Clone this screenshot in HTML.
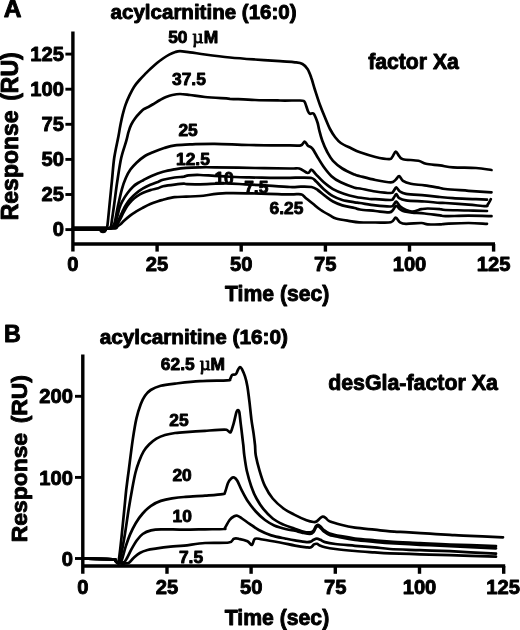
<!DOCTYPE html>
<html lang="en">
<head>
<meta charset="utf-8">
<title>Figure</title>
<style>
html,body{margin:0;padding:0;background:#fff;}
svg{display:block;}
</style>
</head>
<body>
<svg width="520" height="630" viewBox="0 0 520 630">
<rect width="520" height="630" fill="#fff"/>
<g fill="none" stroke="#000" stroke-width="2.7" stroke-linecap="round" stroke-linejoin="round">
<path d="M73.0 228.5C78.2 228.5 98.4 228.8 104.0 228.7C109.6 228.6 105.9 228.6 106.5 228.0C107.1 227.4 107.0 229.0 107.5 225.0C108.0 221.0 108.9 211.5 109.6 204.2C110.3 196.9 111.1 188.9 111.9 181.2C112.7 173.5 113.1 165.5 114.2 158.0C115.3 150.5 117.5 141.3 118.5 136.0C119.5 130.7 119.5 129.6 120.2 126.2C120.9 122.8 121.6 119.0 122.5 115.4C123.4 111.8 124.4 107.9 125.6 104.6C126.8 101.3 128.1 98.4 129.5 95.4C130.9 92.5 132.3 89.5 134.0 86.9C135.7 84.3 137.7 82.0 139.5 80.0C141.3 78.0 142.7 76.5 144.6 74.6C146.5 72.7 148.7 70.4 150.8 68.5C152.9 66.6 155.0 64.7 157.0 63.0C159.0 61.3 161.0 59.9 163.0 58.5C165.0 57.1 167.1 55.7 169.2 54.6C171.3 53.5 173.6 52.6 175.4 52.0C177.2 51.4 177.6 51.2 180.0 51.2C182.4 51.2 185.8 51.8 190.0 52.3C194.2 52.8 198.3 53.6 205.0 54.5C211.7 55.4 221.7 56.7 230.0 57.5C238.3 58.3 246.7 58.9 255.0 59.5C263.3 60.1 273.3 60.8 280.0 61.2C286.7 61.7 291.2 61.8 295.0 62.3C298.8 62.8 300.4 62.9 302.5 64.0C304.6 65.1 306.0 66.8 307.5 69.0C309.0 71.2 310.0 74.0 311.2 77.5C312.5 81.0 313.5 85.4 315.0 90.0C316.5 94.6 318.3 100.4 320.0 105.0C321.7 109.6 323.3 113.5 325.0 117.5C326.7 121.5 328.3 125.8 330.0 129.0C331.7 132.2 333.2 134.7 335.0 137.0C336.8 139.3 338.1 141.1 340.8 143.0C343.6 144.9 348.3 146.9 351.5 148.5C354.7 150.1 356.0 150.9 360.0 152.3C364.0 153.7 370.5 155.8 375.4 157.0C380.3 158.2 386.4 159.2 389.2 159.2C392.0 159.2 391.2 158.3 392.3 157.0C393.4 155.7 394.6 151.6 395.7 151.5C396.8 151.4 398.0 154.9 399.2 156.2C400.4 157.5 399.8 158.4 403.0 159.2C406.2 160.0 414.7 160.0 418.5 160.8C422.3 161.6 422.4 163.0 426.0 163.8C429.6 164.6 435.5 164.8 440.0 165.4C444.5 166.0 447.0 167.0 453.0 167.4C459.0 167.8 469.6 167.6 476.0 168.0C482.4 168.4 488.9 169.7 491.5 170.0"/>
<path d="M73.0 228.5C78.8 228.5 101.8 228.8 108.0 228.5C114.2 228.2 109.9 227.8 110.5 227.0C111.1 226.2 110.8 227.8 111.4 224.0C112.0 220.2 113.2 211.3 114.2 204.2C115.2 197.1 116.1 188.9 117.3 181.2C118.5 173.5 119.7 164.7 121.2 158.0C122.7 151.3 125.0 145.5 126.2 141.2C127.4 136.9 127.7 134.8 128.5 132.0C129.3 129.2 130.1 126.8 131.2 124.6C132.3 122.3 133.6 120.4 135.0 118.5C136.4 116.6 138.2 114.5 139.7 113.0C141.2 111.5 142.2 110.3 143.8 109.2C145.4 108.1 147.5 107.4 149.2 106.5C150.9 105.6 152.0 104.9 153.8 103.8C155.6 102.7 158.0 101.1 160.0 100.0C162.0 98.9 163.9 97.8 166.0 97.0C168.1 96.2 170.0 95.5 172.3 95.0C174.6 94.5 177.1 94.0 180.0 94.0C182.9 94.0 185.8 94.5 190.0 95.0C194.2 95.5 198.3 96.4 205.0 97.0C211.7 97.6 221.7 98.2 230.0 98.8C238.3 99.2 246.7 99.7 255.0 100.0C263.3 100.3 272.5 100.4 280.0 100.5C287.5 100.6 296.1 100.4 300.0 100.5C303.9 100.6 302.7 100.7 303.5 101.0C304.3 101.3 304.2 100.8 305.0 102.5C305.8 104.2 307.2 109.4 308.0 111.2C308.8 113.1 309.0 113.3 310.0 113.8C311.0 114.2 312.5 112.3 313.8 113.8C315.0 115.2 316.6 119.8 317.5 122.5C318.4 125.2 318.4 127.0 319.2 130.0C320.0 133.1 321.0 137.2 322.3 140.8C323.6 144.4 325.2 148.2 327.0 151.5C328.8 154.8 330.4 158.0 333.0 160.8C335.6 163.6 338.7 166.2 342.3 168.5C345.9 170.8 351.7 173.3 354.6 174.6C357.6 175.9 356.5 175.3 360.0 176.2C363.5 177.1 370.3 179.0 375.4 180.0C380.5 181.0 387.5 182.3 390.8 182.3C394.1 182.3 394.0 181.0 395.4 180.0C396.8 179.0 397.9 176.1 399.2 176.2C400.5 176.3 401.1 179.5 403.0 180.8C404.9 182.1 407.2 183.0 410.8 183.8C414.4 184.6 419.7 184.7 424.6 185.4C429.5 186.1 436.5 187.4 440.0 188.0C443.5 188.6 440.6 188.5 445.4 189.0C450.1 189.5 460.8 190.2 468.5 190.8C476.2 191.4 487.7 192.1 491.5 192.3"/>
<path d="M73.0 228.5C79.2 228.4 103.3 228.4 110.0 228.0C116.7 227.6 112.2 227.1 113.0 226.0C113.8 224.9 114.2 224.6 115.0 221.2C115.8 217.8 116.8 211.2 118.0 205.8C119.2 200.4 120.7 193.4 122.0 188.8C123.3 184.2 124.4 181.2 125.8 178.0C127.2 174.8 128.6 172.2 130.4 169.6C132.2 167.0 134.2 164.9 136.5 162.7C138.8 160.5 141.4 158.3 144.2 156.5C147.0 154.7 150.2 153.4 153.5 152.0C156.8 150.6 160.6 149.1 164.2 148.0C167.8 146.9 170.7 145.9 175.0 145.3C179.3 144.7 183.4 144.7 190.0 144.4C196.6 144.2 204.8 143.7 214.6 143.8C224.4 143.9 236.4 144.7 249.0 145.0C261.6 145.3 281.4 145.3 290.0 145.4C298.6 145.5 298.4 146.1 300.8 145.4C303.2 144.8 303.5 141.5 304.6 141.5C305.8 141.5 306.4 144.2 307.7 145.4C309.0 146.6 310.8 146.7 312.3 148.5C313.9 150.3 315.1 153.1 317.0 156.2C318.9 159.3 321.4 163.7 323.8 167.0C326.2 170.3 328.7 173.6 331.5 176.2C334.3 178.8 336.9 180.4 340.8 182.3C344.7 184.2 351.4 186.7 354.6 187.7C357.8 188.7 356.5 187.9 360.0 188.5C363.5 189.1 370.3 190.8 375.4 191.5C380.5 192.2 387.7 193.1 390.8 193.0C393.9 192.9 392.9 191.7 393.8 190.8C394.7 189.9 395.2 187.3 396.2 187.4C397.2 187.5 398.4 190.4 400.0 191.5C401.6 192.6 401.9 193.2 406.0 193.8C410.1 194.5 418.9 194.9 424.6 195.4C430.3 195.9 435.3 196.5 440.0 197.0C444.7 197.5 447.0 197.8 453.0 198.2C459.0 198.6 470.3 198.9 476.0 199.2C481.7 199.4 485.2 199.6 487.0 199.7"/>
<path d="M73.0 228.5C79.3 228.4 104.1 228.6 111.0 228.0C117.9 227.4 113.5 226.9 114.5 225.0C115.5 223.1 116.5 219.3 117.3 216.5C118.1 213.7 118.7 210.5 119.5 207.9C120.3 205.3 121.1 203.6 122.4 201.2C123.7 198.8 125.4 195.9 127.2 193.5C129.0 191.1 131.2 188.4 133.0 186.7C134.8 184.9 136.2 184.1 138.0 183.0C139.8 181.9 141.3 181.2 143.6 180.0C145.8 178.8 148.2 177.4 151.5 176.0C154.8 174.6 159.2 172.9 163.1 171.8C166.9 170.7 170.8 170.0 174.6 169.3C178.4 168.6 181.9 168.1 186.1 167.8C190.3 167.5 195.2 167.4 200.0 167.3C204.8 167.2 205.4 167.2 214.6 167.3C223.8 167.4 242.4 167.8 255.0 168.0C267.6 168.2 282.6 168.4 290.0 168.5C297.4 168.6 296.2 167.8 299.2 168.5C302.1 169.2 305.6 172.8 307.7 173.0C309.8 173.2 310.1 169.4 311.5 169.7C312.9 170.0 314.1 172.5 316.2 174.6C318.2 176.7 321.0 179.9 323.8 182.3C326.6 184.7 329.7 187.3 333.0 189.2C336.3 191.1 340.0 192.5 343.8 193.8C347.6 195.1 351.6 196.1 356.0 197.0C360.4 197.9 366.8 198.6 370.0 199.0C373.2 199.4 371.9 199.0 375.4 199.2C378.9 199.4 387.7 200.2 390.8 200.0C393.9 199.8 392.9 198.7 393.8 197.7C394.7 196.7 395.3 194.1 396.2 194.2C397.1 194.3 397.6 197.2 399.2 198.2C400.8 199.2 401.8 199.8 406.0 200.3C410.2 200.9 418.9 201.1 424.6 201.5C430.3 201.9 436.5 202.6 440.0 202.8C443.5 203.1 440.6 202.7 445.4 203.0C450.1 203.3 461.8 204.1 468.5 204.6C475.2 205.1 482.2 206.2 485.4 206.2C488.6 206.2 486.8 205.8 487.7 204.6C488.6 203.4 490.3 200.1 490.8 199.2"/>
<path d="M73.0 228.5C79.5 228.4 104.9 228.5 112.0 228.0C119.1 227.5 114.3 227.0 115.5 225.5C116.7 224.0 117.8 221.3 119.0 219.0C120.2 216.7 121.4 213.9 122.4 211.7C123.5 209.5 124.0 208.1 125.3 206.0C126.6 203.9 128.3 201.3 130.1 199.2C131.9 197.1 133.8 195.2 135.9 193.5C138.0 191.8 140.2 190.1 142.6 188.7C145.0 187.2 147.7 185.9 150.3 184.8C152.9 183.7 155.9 182.7 158.0 181.9C160.1 181.1 160.3 180.5 163.1 179.8C165.9 179.1 171.1 178.0 174.6 177.5C178.1 177.0 181.5 177.0 183.8 176.7C186.1 176.3 185.8 175.7 188.5 175.4C191.2 175.1 195.7 174.9 200.0 175.0C204.3 175.1 208.8 175.5 214.6 175.8C220.4 176.1 229.3 176.7 235.0 177.0C240.7 177.3 243.2 177.3 249.0 177.4C254.8 177.5 263.2 177.7 270.0 177.8C276.8 177.9 285.1 177.8 290.0 177.8C294.9 177.8 295.6 177.6 299.2 177.6C302.8 177.6 308.7 177.3 311.5 178.0C314.3 178.7 314.1 179.6 316.2 181.5C318.2 183.4 321.0 186.8 323.8 189.2C326.6 191.6 329.9 194.4 333.0 196.2C336.1 198.0 338.7 199.0 342.3 200.0C345.9 201.0 351.7 201.8 354.6 202.3C357.6 202.8 356.5 202.5 360.0 203.0C363.5 203.5 370.3 204.8 375.4 205.4C380.5 206.0 387.7 206.6 390.8 206.5C393.9 206.4 392.9 205.4 393.8 204.6C394.7 203.8 395.2 201.2 396.2 201.5C397.2 201.8 398.4 204.8 400.0 206.2C401.6 207.6 403.9 209.1 406.0 210.0C408.1 210.9 409.7 211.6 412.3 211.5C414.9 211.4 418.9 209.7 421.5 209.2C424.1 208.7 424.6 208.5 427.7 208.5C430.8 208.5 437.1 208.9 440.0 209.2C442.9 209.4 440.6 209.8 445.4 210.0C450.1 210.2 461.6 210.3 468.5 210.5C475.4 210.7 483.9 210.9 487.0 211.0"/>
<path d="M73.0 228.5C79.7 228.4 105.8 228.5 113.0 228.0C120.2 227.5 115.3 226.9 116.5 225.5C117.7 224.1 118.8 221.6 120.0 219.5C121.2 217.4 122.2 214.9 123.4 212.7C124.6 210.4 125.8 208.1 127.2 206.0C128.6 203.9 130.4 201.8 132.0 200.2C133.6 198.6 135.0 197.5 136.8 196.3C138.6 195.1 140.3 194.0 142.6 193.0C144.8 192.0 147.7 190.9 150.3 190.1C152.9 189.3 155.9 188.8 158.0 188.2C160.1 187.6 160.3 186.9 163.1 186.3C165.9 185.7 171.1 185.0 174.6 184.6C178.1 184.2 181.7 183.8 183.8 183.7C185.9 183.6 184.3 184.1 187.0 184.2C189.7 184.3 193.5 184.4 200.0 184.3C206.5 184.2 218.5 183.4 226.0 183.4C233.5 183.4 239.2 184.1 245.0 184.4C250.8 184.7 253.3 184.8 260.8 185.2C268.3 185.6 283.3 186.8 290.0 187.0C296.7 187.2 297.2 186.6 300.8 186.6C304.4 186.6 308.7 186.4 311.5 187.0C314.3 187.6 315.4 188.5 317.7 190.0C320.0 191.5 322.8 194.3 325.4 196.2C327.9 198.1 330.2 200.0 333.0 201.5C335.8 203.0 338.7 204.3 342.3 205.4C345.9 206.5 351.7 207.3 354.6 208.0C357.6 208.7 356.5 209.0 360.0 209.5C363.5 210.0 370.5 210.5 375.4 211.0C380.3 211.5 386.3 212.5 389.2 212.3C392.1 212.1 391.8 211.1 393.0 210.0C394.2 208.9 395.0 205.9 396.2 205.8C397.4 205.7 398.6 208.2 400.0 209.2C401.4 210.1 402.6 210.9 404.6 211.5C406.7 212.1 409.0 212.3 412.3 212.6C415.6 212.9 420.0 213.0 424.6 213.5C429.2 214.0 436.5 215.0 440.0 215.4C443.5 215.8 440.6 216.1 445.4 216.2C450.1 216.2 460.8 215.7 468.5 215.7C476.2 215.7 487.7 216.1 491.5 216.2"/>
<path d="M73.0 228.5C79.5 228.5 104.8 228.8 112.0 228.5C119.2 228.2 114.6 227.7 116.0 227.0C117.4 226.3 119.1 225.3 120.5 224.2C121.9 223.1 122.7 221.8 124.3 220.4C125.9 219.0 128.2 217.1 130.1 215.6C132.0 214.1 133.8 213.0 135.9 211.7C138.0 210.4 140.2 209.2 142.6 207.9C145.0 206.6 147.7 205.1 150.3 204.0C152.9 202.9 155.9 201.9 158.0 201.2C160.1 200.5 160.3 200.5 163.1 199.8C165.9 199.1 170.8 197.7 174.6 197.2C178.4 196.7 181.9 196.8 186.1 196.6C190.3 196.4 193.3 196.6 200.0 196.0C206.7 195.4 215.9 193.6 226.0 193.2C236.1 192.8 250.1 193.4 260.8 193.6C271.5 193.8 283.3 194.3 290.0 194.4C296.7 194.5 298.2 193.8 300.8 194.3C303.4 194.9 303.4 196.1 305.4 197.7C307.4 199.3 310.4 201.8 313.0 203.8C315.6 205.9 318.0 208.1 320.8 210.0C323.6 211.9 327.5 214.0 330.0 215.4C332.5 216.8 332.9 217.6 336.0 218.5C339.1 219.4 344.6 220.2 348.5 220.8C352.4 221.4 354.7 222.0 359.2 222.3C363.7 222.6 370.1 222.5 375.4 222.5C380.7 222.5 387.4 223.1 390.8 222.3C394.2 221.5 394.2 217.7 395.7 217.7C397.2 217.7 398.3 221.3 400.0 222.3C401.7 223.3 402.4 223.7 406.0 223.8C409.6 223.9 417.9 222.9 421.5 223.0C425.1 223.1 424.6 224.1 427.7 224.3C430.8 224.5 437.1 224.5 440.0 224.4C442.9 224.3 440.6 224.0 445.4 223.8C450.1 223.6 461.6 223.0 468.5 223.0C475.4 223.0 483.9 223.7 487.0 223.8"/>
<path d="M83.0 558.6C87.9 558.7 107.1 558.9 112.5 559.3C117.9 559.7 114.7 560.4 115.5 561.0C116.3 561.6 117.0 563.2 117.5 563.0C118.0 562.8 118.1 564.3 118.8 560.0C119.5 555.7 120.6 545.9 121.5 537.3C122.4 528.7 123.6 516.4 124.4 508.5C125.2 500.6 125.5 496.4 126.2 490.0C127.0 483.6 127.6 478.6 128.8 470.0C129.9 461.4 131.6 447.2 132.9 438.6C134.2 430.0 135.1 424.3 136.4 418.6C137.7 412.9 139.3 408.1 140.7 404.3C142.1 400.5 143.3 398.1 145.0 395.7C146.7 393.3 148.1 391.7 150.7 390.0C153.3 388.3 156.6 386.8 160.7 385.7C164.8 384.6 168.4 384.3 175.0 383.6C181.6 382.9 191.3 381.8 200.0 381.2C208.7 380.7 222.1 380.7 227.1 380.4C232.1 380.1 229.2 380.2 230.0 379.3C230.8 378.4 231.2 375.8 232.1 375.0C233.0 374.2 234.7 375.1 235.7 374.3C236.7 373.5 237.2 371.2 237.9 370.0C238.6 368.8 239.3 367.2 240.0 367.1C240.7 367.0 241.3 367.8 242.1 369.3C242.9 370.9 244.1 373.5 245.0 376.4C245.9 379.2 246.7 382.3 247.4 386.4C248.1 390.4 248.6 395.2 249.3 400.7C250.0 406.2 250.7 413.8 251.4 419.3C252.1 424.8 253.0 429.3 253.6 433.6C254.2 437.9 254.6 441.4 255.0 445.0C255.4 448.6 255.0 451.1 255.8 455.4C256.6 459.7 258.1 465.7 259.6 470.8C261.1 475.9 262.8 481.6 265.0 486.2C267.2 490.8 269.6 494.8 272.7 498.5C275.8 502.2 279.9 505.8 283.5 508.5C287.1 511.2 290.4 512.6 294.2 514.6C298.0 516.6 303.3 519.0 306.5 520.2C309.7 521.4 311.8 521.8 313.5 522.0C315.2 522.2 315.4 522.1 316.5 521.5C317.6 520.9 318.8 519.3 319.8 518.5C320.8 517.7 321.7 516.8 322.7 516.7C323.7 516.6 324.5 517.1 325.6 517.9C326.8 518.7 327.0 520.1 329.6 521.3C332.2 522.4 336.8 523.7 341.0 524.8C345.2 525.9 349.4 526.9 355.0 527.7C360.6 528.5 368.8 529.1 374.6 529.7C380.4 530.3 384.2 530.9 390.0 531.3C395.8 531.7 402.5 531.9 409.2 532.3C415.9 532.7 423.2 533.3 430.0 533.7C436.8 534.1 444.4 534.5 450.0 534.8C455.6 535.1 454.5 535.2 463.3 535.6C472.1 536.0 496.4 537.0 503.0 537.3"/>
<path d="M83.0 558.6C87.9 558.7 107.1 558.9 112.5 559.3C117.9 559.7 114.7 560.4 115.5 561.0C116.3 561.6 116.8 563.0 117.5 563.0C118.2 563.0 118.4 565.3 119.6 561.0C120.8 556.7 122.9 546.0 124.4 537.3C125.9 528.5 127.5 516.4 128.8 508.5C130.1 500.6 130.9 496.0 132.0 490.0C133.1 484.0 134.3 477.2 135.5 472.5C136.7 467.8 137.7 465.0 139.0 461.5C140.3 458.0 141.9 454.3 143.6 451.4C145.3 448.5 147.2 446.4 149.3 444.3C151.4 442.2 153.8 440.2 156.4 438.6C159.0 437.1 161.9 435.9 165.0 435.0C168.1 434.1 172.1 433.4 175.0 433.0C177.9 432.6 177.5 432.7 182.5 432.3C187.5 431.9 198.0 431.2 205.0 430.8C212.0 430.3 220.5 429.6 224.3 429.6C228.1 429.6 226.8 430.3 227.9 430.7C229.0 431.1 229.8 433.3 230.7 432.1C231.6 430.9 232.6 426.9 233.6 423.6C234.6 420.3 235.7 414.4 236.4 412.1C237.1 409.8 237.4 410.0 237.9 410.0C238.4 410.0 238.8 409.8 239.3 412.1C239.8 414.4 240.2 419.8 240.7 423.6C241.2 427.4 241.7 431.4 242.1 435.0C242.5 438.6 242.9 441.6 243.3 445.0C243.7 448.4 243.7 451.1 244.3 455.4C244.9 459.7 245.7 465.7 246.8 470.8C248.0 475.9 249.6 481.6 251.2 486.2C252.8 490.8 254.4 494.7 256.5 498.5C258.6 502.3 260.8 505.9 263.5 509.2C266.2 512.5 269.4 515.9 272.7 518.5C276.0 521.1 279.9 522.9 283.5 524.6C287.1 526.3 291.1 527.4 294.2 528.5C297.3 529.6 299.4 530.6 302.0 531.2C304.6 531.9 308.1 532.5 310.0 532.4C311.9 532.3 312.5 531.7 313.5 530.6C314.5 529.5 315.2 527.0 316.0 526.0C316.8 525.0 317.2 524.7 318.0 524.8C318.8 524.9 319.5 525.6 320.5 526.5C321.5 527.4 322.3 528.8 323.8 530.0C325.3 531.2 326.7 532.5 329.6 533.5C332.5 534.5 336.8 535.4 341.0 536.2C345.2 537.0 349.4 537.8 355.0 538.5C360.6 539.2 368.8 539.8 374.6 540.3C380.4 540.8 382.4 541.0 390.0 541.5C397.6 542.0 410.0 542.5 420.0 543.0C430.0 543.5 437.3 544.0 450.0 544.5C462.7 545.0 488.3 545.8 496.0 546.0"/>
<path d="M83.0 558.6C87.9 558.7 107.1 558.9 112.5 559.3C117.9 559.7 114.6 560.4 115.5 561.0C116.4 561.6 117.0 563.0 118.0 563.0C119.0 563.0 120.4 562.3 121.3 561.0C122.2 559.7 122.4 557.9 123.2 555.3C124.0 552.7 124.8 549.1 126.0 545.6C127.2 542.1 128.5 538.1 130.1 534.4C131.7 530.7 133.6 526.7 135.7 523.2C137.8 519.7 140.1 516.4 142.7 513.5C145.2 510.6 148.0 507.9 151.0 505.8C154.0 503.7 157.3 502.1 160.8 500.9C164.3 499.7 168.1 499.0 172.0 498.4C175.9 497.8 178.5 497.4 184.0 497.0C189.5 496.6 198.6 496.2 205.0 495.7C211.4 495.2 219.2 494.7 222.5 494.1C225.8 493.5 224.1 494.2 225.0 492.3C225.9 490.4 227.0 485.3 228.0 483.0C229.0 480.7 230.2 479.4 231.2 478.5C232.2 477.6 233.2 477.1 234.2 477.5C235.2 477.9 236.0 478.6 237.3 480.8C238.6 483.0 240.2 487.4 242.0 490.8C243.8 494.2 245.7 498.1 248.0 501.5C250.3 504.9 253.0 508.4 255.8 511.5C258.6 514.6 261.9 517.7 265.0 520.0C268.1 522.3 270.6 523.9 274.2 525.4C277.8 526.9 283.0 528.3 286.5 529.2C290.0 530.1 292.4 530.2 295.0 530.8C297.6 531.4 299.5 532.1 302.0 532.6C304.5 533.1 308.1 534.0 310.0 533.9C311.9 533.8 312.5 533.1 313.5 532.0C314.5 530.9 315.2 528.5 316.0 527.5C316.8 526.5 317.2 526.1 318.0 526.2C318.8 526.3 319.5 527.0 320.5 527.9C321.5 528.8 322.3 530.2 323.8 531.4C325.3 532.6 326.7 533.9 329.6 534.9C332.5 535.9 336.8 536.6 341.0 537.5C345.2 538.4 349.4 539.3 355.0 540.0C360.6 540.7 368.8 541.3 374.6 541.8C380.4 542.3 382.4 542.7 390.0 543.2C397.6 543.7 410.0 544.3 420.0 544.8C430.0 545.3 437.3 545.6 450.0 546.2C462.7 546.8 488.3 547.9 496.0 548.3"/>
<path d="M83.0 558.6C87.9 558.7 107.1 558.9 112.5 559.3C117.9 559.7 114.5 560.4 115.5 561.0C116.5 561.6 117.1 562.8 118.5 563.0C119.9 563.2 122.5 563.2 124.0 562.3C125.5 561.4 126.0 559.7 127.3 557.5C128.6 555.3 129.9 552.1 131.5 549.2C133.1 546.3 135.2 542.5 137.1 540.0C139.0 537.5 140.4 535.6 142.7 534.0C145.0 532.4 147.9 531.2 151.0 530.4C154.1 529.6 155.5 529.4 161.0 529.3C166.5 529.2 176.7 529.6 184.0 529.6C191.3 529.6 198.4 529.4 205.0 529.3C211.6 529.2 220.4 529.3 223.8 529.0C227.1 528.7 224.0 529.2 225.0 527.7C226.0 526.2 228.1 521.9 229.6 520.0C231.1 518.1 232.9 516.9 234.2 516.2C235.5 515.5 236.0 515.3 237.3 515.7C238.6 516.1 239.9 517.1 242.0 518.5C244.1 519.9 246.8 521.9 249.6 523.8C252.4 525.7 255.2 528.1 258.8 530.0C262.4 531.9 266.8 534.0 271.2 535.4C275.6 536.8 281.0 537.7 285.0 538.5C289.0 539.3 291.4 539.8 295.0 540.4C298.6 541.0 303.8 541.9 306.5 542.1C309.2 542.3 309.9 541.9 311.1 541.5C312.3 541.1 312.5 540.3 313.5 539.8C314.5 539.3 315.8 538.6 316.9 538.6C318.0 538.6 319.0 539.2 320.4 539.8C321.8 540.4 322.5 541.4 325.0 542.1C327.5 542.8 330.4 543.4 335.4 544.0C340.4 544.6 348.5 545.2 355.0 545.8C361.5 546.3 368.8 546.8 374.6 547.3C380.4 547.8 382.4 548.5 390.0 549.0C397.6 549.5 410.0 549.8 420.0 550.2C430.0 550.6 437.3 550.6 450.0 551.2C462.7 551.8 488.3 553.3 496.0 553.7"/>
<path d="M83.0 558.6C87.9 558.7 107.1 558.9 112.5 559.3C117.9 559.7 114.5 560.4 115.5 561.0C116.5 561.6 116.9 562.6 118.5 563.0C120.1 563.4 123.2 563.6 125.0 563.5C126.8 563.4 127.8 563.5 129.2 562.6C130.6 561.7 131.7 559.6 133.5 558.0C135.3 556.4 137.5 554.3 139.8 553.0C142.1 551.7 144.6 550.8 147.5 550.0C150.4 549.2 153.2 549.0 157.0 548.4C160.8 547.8 166.0 547.1 170.5 546.6C175.0 546.1 178.2 546.2 184.0 545.6C189.8 545.0 197.5 543.5 205.0 543.0C212.5 542.5 224.0 543.2 228.8 542.5C233.5 541.8 232.1 539.4 233.8 538.8C235.4 538.1 236.5 538.3 238.8 538.8C241.0 539.2 245.3 540.2 247.5 541.2C249.7 542.3 250.8 545.4 252.0 545.0C253.2 544.6 253.2 539.7 255.0 538.8C256.8 537.8 258.3 538.9 262.5 539.5C266.7 540.1 274.6 541.5 280.0 542.5C285.4 543.5 290.6 544.8 295.0 545.6C299.4 546.4 303.8 547.0 306.5 547.3C309.2 547.6 309.9 547.8 311.1 547.3C312.4 546.8 313.0 545.0 314.0 544.4C315.0 543.8 315.9 543.6 316.9 543.8C317.9 544.0 318.4 545.0 319.8 545.6C321.2 546.2 322.4 546.7 325.0 547.3C327.6 547.9 330.4 548.4 335.4 549.0C340.4 549.6 348.5 550.4 355.0 551.0C361.5 551.6 368.8 552.0 374.6 552.4C380.4 552.8 382.4 553.0 390.0 553.3C397.6 553.6 410.0 554.0 420.0 554.3C430.0 554.6 437.3 554.8 450.0 555.2C462.7 555.6 488.3 556.5 496.0 556.7"/>
</g>
<g fill="none" stroke="#000" stroke-width="2.3" stroke-linecap="butt">
<path stroke-width="3.4" d="M72.9 31.5V251.6M71.2 244H495" />
<path stroke-width="2.9" d="M65.4 229.6H72.9" />
<path stroke-width="2.9" d="M65.4 194.5H72.9" />
<path stroke-width="2.9" d="M65.4 159.4H72.9" />
<path stroke-width="2.9" d="M65.4 124.3H72.9" />
<path stroke-width="2.9" d="M65.4 89.2H72.9" />
<path stroke-width="2.9" d="M65.4 54.1H72.9" />
<path stroke-width="3.4" d="M157.1 244V251.6" />
<path stroke-width="3.4" d="M241.2 244V251.6" />
<path stroke-width="3.4" d="M325.4 244V251.6" />
<path stroke-width="3.4" d="M409.5 244V251.6" />
<path stroke-width="3.4" d="M493.6 244V251.6" />
<path stroke-width="4.6" d="M73 228.6H107" />
<ellipse cx="103" cy="230.6" rx="3.6" ry="2.6" fill="#000" stroke="none"/>
<path stroke-width="3.4" d="M82.8 354.5V573.8M81.1 566H505.2" />
<path stroke-width="2.9" d="M75 558.5H82.8" />
<path stroke-width="2.9" d="M75 477.4H82.8" />
<path stroke-width="2.9" d="M75 396.3H82.8" />
<path stroke-width="3.4" d="M167.0 566V573.8" />
<path stroke-width="3.4" d="M251.1 566V573.8" />
<path stroke-width="3.4" d="M335.3 566V573.8" />
<path stroke-width="3.4" d="M419.5 566V573.8" />
<path stroke-width="3.4" d="M503.7 566V573.8" />
<ellipse cx="123" cy="563" rx="2.6" ry="2" fill="#000" stroke="none"/>
</g>
<g fill="#000" stroke="#000" stroke-width="0.9" stroke-linejoin="round" font-weight="bold" font-family='"Liberation Sans", Arial, Helvetica, sans-serif'>
<text x="3.8" y="17.4" font-size="24.6" text-anchor="start" >A</text>
<text x="3.9" y="342.3" font-size="23.3" text-anchor="start" >B</text>
<text x="110.6" y="19.1" font-size="19.7" text-anchor="start" textLength="186" lengthAdjust="spacingAndGlyphs">acylcarnitine (16:0)</text>
<text x="99.7" y="343.6" font-size="19.7" text-anchor="start" textLength="188.3" lengthAdjust="spacingAndGlyphs">acylcarnitine (16:0)</text>
<text x="64" y="236.25" font-size="20.2" text-anchor="end" >0</text>
<text x="64" y="201.15" font-size="20.2" text-anchor="end" >25</text>
<text x="64" y="166.05" font-size="20.2" text-anchor="end" >50</text>
<text x="64" y="130.95000000000002" font-size="20.2" text-anchor="end" >75</text>
<text x="64" y="95.85000000000004" font-size="20.2" text-anchor="end" >100</text>
<text x="64" y="60.750000000000014" font-size="20.2" text-anchor="end" >125</text>
<text x="72.9" y="271.2" font-size="20.2" text-anchor="middle" >0</text>
<text x="157.05" y="271.2" font-size="20.2" text-anchor="middle" >25</text>
<text x="241.20000000000002" y="271.2" font-size="20.2" text-anchor="middle" >50</text>
<text x="325.35" y="271.2" font-size="20.2" text-anchor="middle" >75</text>
<text x="409.5" y="271.2" font-size="20.2" text-anchor="middle" >100</text>
<text x="493.65" y="271.2" font-size="20.2" text-anchor="middle" >125</text>
<text x="73" y="565.6" font-size="20.2" text-anchor="end" >0</text>
<text x="73" y="484.5" font-size="20.2" text-anchor="end" >100</text>
<text x="73" y="403.4" font-size="20.2" text-anchor="end" >200</text>
<text x="82.8" y="594" font-size="20.2" text-anchor="middle" >0</text>
<text x="166.975" y="594" font-size="20.2" text-anchor="middle" >25</text>
<text x="251.14999999999998" y="594" font-size="20.2" text-anchor="middle" >50</text>
<text x="335.325" y="594" font-size="20.2" text-anchor="middle" >75</text>
<text x="419.5" y="594" font-size="20.2" text-anchor="middle" >100</text>
<text x="503.2" y="594" font-size="20.2" text-anchor="middle" >125</text>
<text x="277.2" y="301.2" font-size="21.2" text-anchor="middle" >Time (sec)</text>
<text x="277" y="625" font-size="21.2" text-anchor="middle" >Time (sec)</text>
<text transform="translate(17.6 220.3) rotate(-90)" word-spacing="3.2" font-size="23">Response (RU)</text>
<text transform="translate(27.2 542.3) rotate(-90)" word-spacing="3.2" font-size="22.9">Response (RU)</text>
<text x="368.2" y="69" font-size="21.2" text-anchor="start" >factor Xa</text>
<text x="168.2" y="42.6" font-size="17.4" text-anchor="start" >50<tspan x="192.2" font-weight="normal" font-size="19.5" font-family="'Liberation Serif', 'DejaVu Serif', serif">µ</tspan><tspan x="203.8">M</tspan></text>
<text x="172" y="85.2" font-size="17.4" text-anchor="start" >37.5</text>
<text x="178.4" y="136.2" font-size="17.4" text-anchor="start" >25</text>
<text x="176" y="164.9" font-size="17.4" text-anchor="start" >12.5</text>
<text x="214.4" y="183.9" font-size="17.4" text-anchor="start" >10</text>
<text x="244.2" y="192.8" font-size="17.4" text-anchor="start" >7.5</text>
<text x="269.6" y="213.9" font-size="17.4" text-anchor="start" >6.25</text>
<text x="160.8" y="370.4" font-size="17.4" text-anchor="start" >62.5<tspan x="199.4" font-weight="normal" font-size="19.5" font-family="'Liberation Serif', 'DejaVu Serif', serif">µ</tspan><tspan x="210.6">M</tspan></text>
<text x="169.3" y="426.3" font-size="17.4" text-anchor="start" >25</text>
<text x="172.4" y="480.6" font-size="17.4" text-anchor="start" >20</text>
<text x="172.5" y="522" font-size="17.4" text-anchor="start" >10</text>
<text x="178.9" y="562.6" font-size="17.4" text-anchor="start" >7.5</text>
<text x="328.2" y="389.6" font-size="21.35" text-anchor="start" >desGla-factor Xa</text>
</g>
</svg>
</body>
</html>
